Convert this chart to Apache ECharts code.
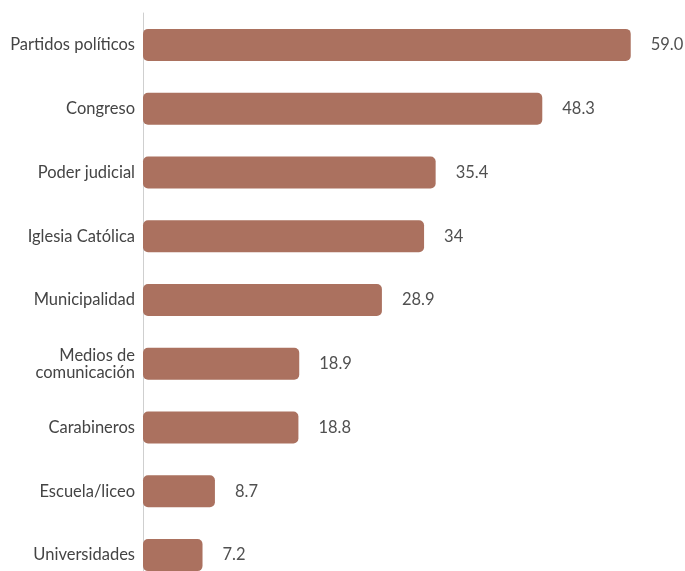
<!DOCTYPE html>
<html>
<head>
<meta charset="utf-8">
<script src="https://cdn.jsdelivr.net/npm/echarts@6/dist/echarts.min.js"></script>
<style>
  html, body { margin: 0; padding: 0; background: #fff; overflow: hidden; }
  #chart { width: 685px; height: 590px; }
</style>
</head>
<body>
<div id="chart"></div>
<script>
// categories, top to bottom
const categories = [
  "Partidos políticos",
  "Congreso",
  "Poder judicial",
  "Iglesia Católica",
  "Municipalidad",
  "Medios de\ncomunicación",
  "Carabineros",
  "Escuela/liceo",
  "Universidades"
];
const values = [59.0, 48.3, 35.4, 34, 28.9, 18.9, 18.8, 8.7, 7.2];
const valueLabels = ["59.0", "48.3", "35.4", "34", "28.9", "18.9", "18.8", "8.7", "7.2"];

let myChart = echarts.init(document.getElementById("chart"));
myChart.setOption({
  animation: false,
  grid: { left: 143, right: 46, top: 13, height: 574, containLabel: false },
  xAxis: {
    type: "value",
    min: 0,
    max: 60,
    show: false
  },
  yAxis: {
    type: "category",
    inverse: true,
    data: categories,
    axisLine: { show: true, lineStyle: { color: "#cfcfcf", width: 1 } },
    axisTick: { show: false },
    axisLabel: {
      color: "#444",
      fontFamily: "Lato",
      fontSize: 16.5,
      lineHeight: 17,
      margin: 8
    }
  },
  series: [
    {
      type: "bar",
      data: values,
      barWidth: 32,
      itemStyle: { color: "#ab715f", borderRadius: 5 },
      label: {
        show: true,
        position: "right",
        distance: 20,
        color: "#505050",
        fontFamily: "Lato",
        fontSize: 16.5,
        formatter: p => valueLabels[p.dataIndex]
      }
    }
  ]
});
</script>
</body>
</html>
